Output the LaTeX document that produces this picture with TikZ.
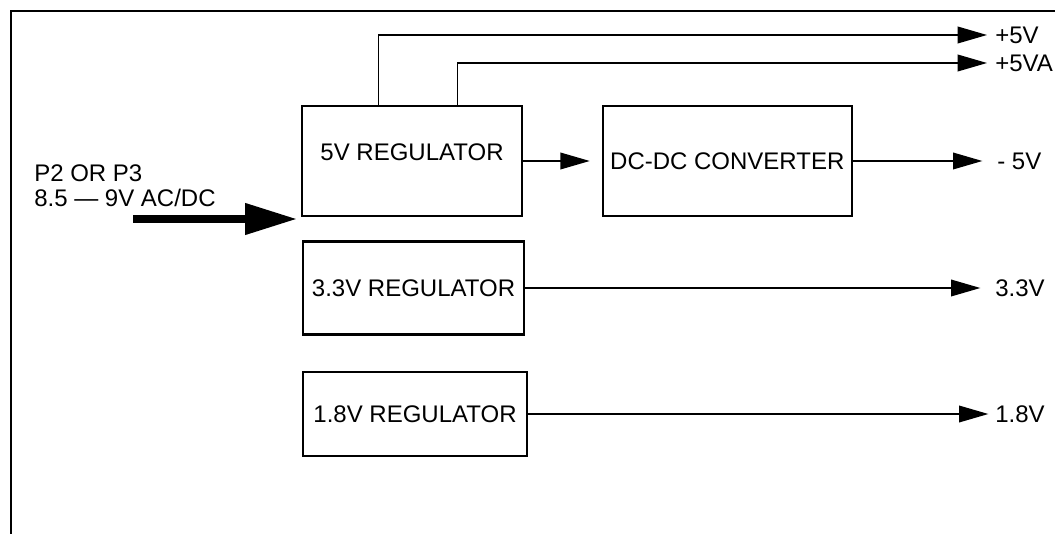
\documentclass[tikz,border=0pt]{standalone}
\usepackage{fontspec}
\setmainfont{Liberation Sans}
\usetikzlibrary{arrows.meta, positioning, calc}

\begin{document}
\begin{tikzpicture}[
    x=0.75pt, y=-0.75pt,
    every node/.style={font=\fontsize{18}{18.75}\selectfont},
    regbox/.style={rectangle, minimum height=82.5pt, text centered,
                   draw=black, line width=1.6pt},
    outlabel/.style={anchor=west, inner sep=0pt},
    arrow/.style={-{Triangle[length=22pt, width=12.5pt]}, line width=1.1pt, shorten >=6pt},
    bigarrow/.style={-{Triangle[length=39pt, width=22.5pt]}, line width=5.6pt},
    frame/.style={line width=1.8pt}
]
\useasboundingbox (0,0) rectangle (1055,534);

% Frame
\draw [frame] (1056,11) -- (11,11) -- (11,535);

% Regulators
\node (reg5) [regbox, minimum width=165pt, text depth=14pt] at (412,161) {5V REGULATOR};
\node (dcdc) [regbox, minimum width=186.75pt, right=59pt of reg5] {DC-DC CONVERTER};
\node (reg33) [regbox, minimum width=165.75pt, minimum height=69.75pt] at (413.5,288) {3.3V REGULATOR};
\node (reg18) [regbox, minimum width=168pt, minimum height=63pt] at (415,414) {1.8V REGULATOR};

% Supply input
\node (input) [align=left, anchor=west, inner sep=0pt] at (34,186) {P2 OR P3\\8.5 — 9V AC/DC};
\coordinate (pin) at (133,219);
\coordinate (pout) at (297,219);

% Outputs
\node (p5) [outlabel] at (995,35) {+5V};
\node (p5a) [outlabel] at (995,63) {+5VA};
\node (m5) [outlabel] at (997,161) {- 5V};
\node (p33) [outlabel] at (995,288) {3.3V};
\node (p18) [outlabel] at (995,414) {1.8V};

% Arrows
\draw [bigarrow] (pin) -- (pout);

\draw [arrow] ($(reg5.north west)!0.35!(reg5.north east)$) |- (p5.west);
\draw [arrow] ($(reg5.north west)!0.705!(reg5.north east)$) |- (p5a.west);
\draw [arrow, shorten >=9pt] (reg5.east) -- (dcdc.west);

\draw [arrow, shorten >=11pt] (dcdc.east) -- (m5.west);
\draw [arrow, shorten >=11pt] (reg33.east) -- (p33.west);
\draw [arrow, shorten >=5pt] (reg18.east) -- (p18.west);

\end{tikzpicture}
\end{document}
